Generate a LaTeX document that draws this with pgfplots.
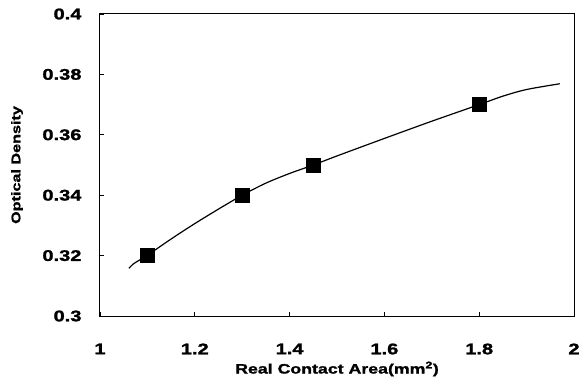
\documentclass[border=0pt]{standalone}
\usepackage{pgfplots}
\pgfplotsset{compat=1.18}
\usepackage{fontspec}
\setmainfont{Liberation Sans}
\newfontfamily\heavy{Liberation Sans}[UprightFont={* Bold}, FakeStretch=1.3, FakeBold=1.5]
\begin{document}
\begin{tikzpicture}
\begin{axis}[
  scale only axis,
  width=474bp, height=302bp,
  xmin=1, xmax=2, ymin=0.3, ymax=0.4,
  xtick={1,1.2,1.4,1.6,1.8,2},
  ytick={0.3,0.32,0.34,0.36,0.38,0.4},
  xticklabels={1,1.2,1.4,1.6,1.8,2},
  yticklabels={0.3,0.32,0.34,0.36,0.38,0.4},
  tick align=inside, xtick pos=left, ytick pos=left,
  major tick length=4bp,
  axis line style={line width=1bp},
  tick style={line width=0.8bp, black},
  ticklabel style={font=\heavy\fontsize{15.5}{15.5}\selectfont},
  xticklabel style={yshift=-24bp},
  yticklabel style={xshift=-15bp},
  xlabel={\heavy\fontsize{13.7}{13.7}\selectfont Real Contact Area(mm\textsuperscript{2})},
  ylabel={\heavy\fontsize{12.5}{12.5}\selectfont Optical Density},
  xlabel style={at={(axis description cs:0.5,-0.1755)}, anchor=center},
  ylabel style={at={(axis description cs:-0.175,0.5)}, anchor=center, rotate=0},
]
\addplot[black, line width=1.2bp, smooth] coordinates {
(1.061,0.3158) (1.07,0.3172) (1.08,0.3182) (1.1,0.3201) (1.15,0.3255) (1.2,0.3306)
(1.25,0.3354) (1.3,0.3400) (1.35,0.3440) (1.4,0.3472) (1.45,0.3500)
(1.5,0.3530) (1.6,0.3588) (1.7,0.3645) (1.8,0.3700) (1.85,0.3728)
(1.9,0.3750) (1.97,0.3769)
};
\addplot[only marks, mark=square*, mark size=7bp, black] coordinates {
(1.1,0.32) (1.3,0.34) (1.45,0.35) (1.8,0.37)
};
\end{axis}
\path (current axis.south west) ++(-100bp,-74bp);
\path (current axis.north east) ++(14bp,14bp);
\end{tikzpicture}
\end{document}
